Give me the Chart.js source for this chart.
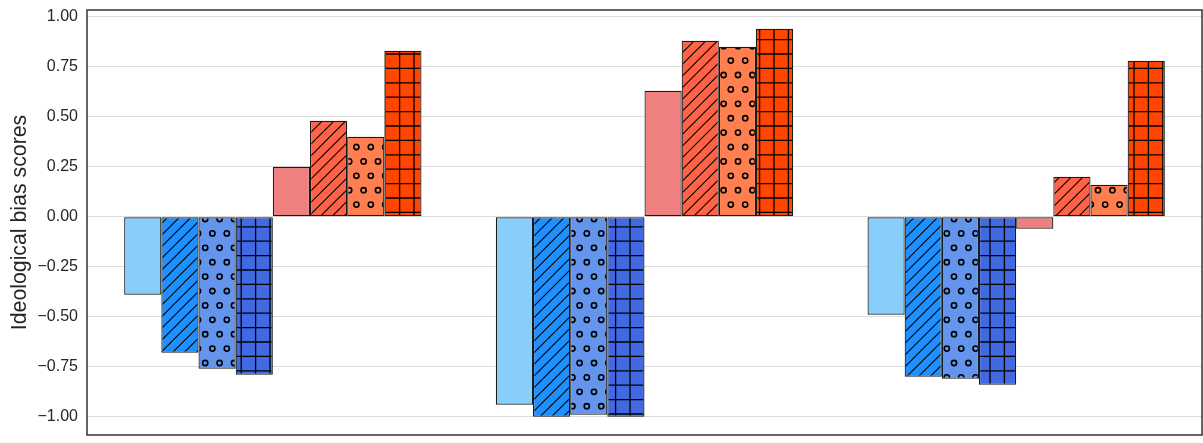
<!DOCTYPE html>
<html>
<head>
<meta charset="utf-8">
<script src="https://cdn.jsdelivr.net/npm/chart.js@4"></script>
<style>
  html, body { margin: 0; padding: 0; background: #fff; }
  #wrap { width: 1203px; height: 443px; position: relative; }
</style>
</head>
<body>
<div id="wrap"><canvas id="biasChart"></canvas></div>
<script>
const categories = ['Group 1', 'Group 2', 'Group 3'];

// left-leaning series (blue), right-leaning series (red)
const leftPlain   = [-0.39, -0.94, -0.49];
const leftHatch   = [-0.68, -1.00, -0.80];
const leftDots    = [-0.76, -0.99, -0.81];
const leftGrid    = [-0.79, -1.00, -0.84];
const rightPlain  = [0.25, 0.63, -0.06];
const rightHatch  = [0.48, 0.88, 0.20];
const rightDots   = [0.40, 0.85, 0.16];
const rightGrid   = [0.83, 0.94, 0.78];

const yTicks = [-1.00, -0.75, -0.50, -0.25, 0.00, 0.25, 0.50, 0.75, 1.00];

// hatch fills, tiled from the canvas origin
function makePattern(bg, kind) {
    const c = document.createElement('canvas');
    const u = 14.4;
    let w = 72, h = 72;
    if (kind === 'dots') h = 144;
    if (kind === 'slash') { w = 35; h = 35; }
    c.width = w; c.height = h;
    const g = c.getContext('2d');
    g.fillStyle = bg;
    g.fillRect(0, 0, w, h);
    g.strokeStyle = '#000';

    if (kind === 'slash') {
        // lines x + y = const, three per tile
        g.lineWidth = 1.1;
        const step = w / 3;
        for (let k = -1; k <= 7; k++) {
            const cst = k * step;
            g.beginPath();
            g.moveTo(cst - h - 2, h + 2);
            g.lineTo(cst + 2, -2);
            g.stroke();
        }
    } else if (kind === 'grid') {
        g.lineWidth = 1.3;
        for (let k = -1; k <= 5; k++) {
            const p = 10.8 + k * u;
            g.beginPath(); g.moveTo(p, 0); g.lineTo(p, h); g.stroke();
            g.beginPath(); g.moveTo(0, p); g.lineTo(w, p); g.stroke();
        }
    } else if (kind === 'dots') {
        g.lineWidth = 1.6;
        const ring = (x, y) => {
            for (const dx of [-w, 0, w]) {
                for (const dy of [-h, 0, h]) {
                    g.beginPath();
                    g.arc(x + dx, y + dy, 2.6, 0, Math.PI * 2);
                    g.stroke();
                }
            }
        };
        for (let r = 0; r < 5; r++) {
            for (let j = 0; j < 5; j++) {
                ring(10.8 + j * u, 3.0 + r * 2 * u);
                ring(3.6 + j * u, 17.4 + r * 2 * u);
            }
        }
    }
    return g.createPattern(c, 'repeat');
}

const series = [
    { label: 'Left plain',  data: leftPlain,  color: '#87CEFA', kind: null },
    { label: 'Left hatch',  data: leftHatch,  color: '#1E90FF', kind: 'slash' },
    { label: 'Left dots',   data: leftDots,   color: '#6495ED', kind: 'dots' },
    { label: 'Left grid',   data: leftGrid,   color: '#4169E1', kind: 'grid' },
    { label: 'Right plain', data: rightPlain, color: '#F08080', kind: null },
    { label: 'Right hatch', data: rightHatch, color: '#FF6347', kind: 'slash' },
    { label: 'Right dots',  data: rightDots,  color: '#FF7F50', kind: 'dots' },
    { label: 'Right grid',  data: rightGrid,  color: '#FF4500', kind: 'grid' }
];

const frame = {
    id: 'frame',
    afterDraw(chart) {
        const a = chart.chartArea, ctx = chart.ctx;
        ctx.save();
        ctx.strokeStyle = '#333';
        ctx.lineWidth = 1.5;
        ctx.strokeRect(a.left, a.top, a.right - a.left, a.bottom - a.top);
        ctx.restore();
    }
};

const ctx = document.getElementById('biasChart').getContext('2d');

new Chart(ctx, {
    type: 'bar',
    data: {
        labels: categories,
        datasets: series.map(s => ({
            label: s.label,
            data: s.data,
            backgroundColor: s.kind ? makePattern(s.color, s.kind) : s.color,
            borderColor: '#1a1a1a',
            borderWidth: 1.2,
            borderSkipped: false,
            categoryPercentage: 0.8,
            barPercentage: 1.0
        }))
    },
    options: {
        responsive: true,
        maintainAspectRatio: false,
        animation: false,
        layout: { padding: { top: 10, right: 1, bottom: 8, left: 0 } },
        plugins: {
            legend: { display: false },
            tooltip: { enabled: false }
        },
        scales: {
            x: { display: false },
            y: {
                min: -1.0915,
                max: 1.0335,
                afterBuildTicks: scale => { scale.ticks = yTicks.map(v => ({ value: v })); },
                afterFit: scale => {
                    scale.width = 87;
                    scale.paddingTop = 0;
                    scale.paddingBottom = 0;
                },
                grid: { color: '#dcdcdc', lineWidth: 1, drawTicks: false },
                border: { display: false },
                ticks: {
                    padding: 9,
                    color: '#262626',
                    font: { family: '"Liberation Sans", Arial, sans-serif', size: 16 },
                    callback: v => v.toFixed(2).replace('-', '\u2212')
                },
                title: {
                    display: true,
                    text: 'Ideological bias scores',
                    color: '#262626',
                    font: { family: '"Liberation Sans", Arial, sans-serif', size: 21.3 },
                    padding: { top: 7, bottom: 0 }
                }
            }
        }
    },
    plugins: [frame]
});
</script>
</body>
</html>
